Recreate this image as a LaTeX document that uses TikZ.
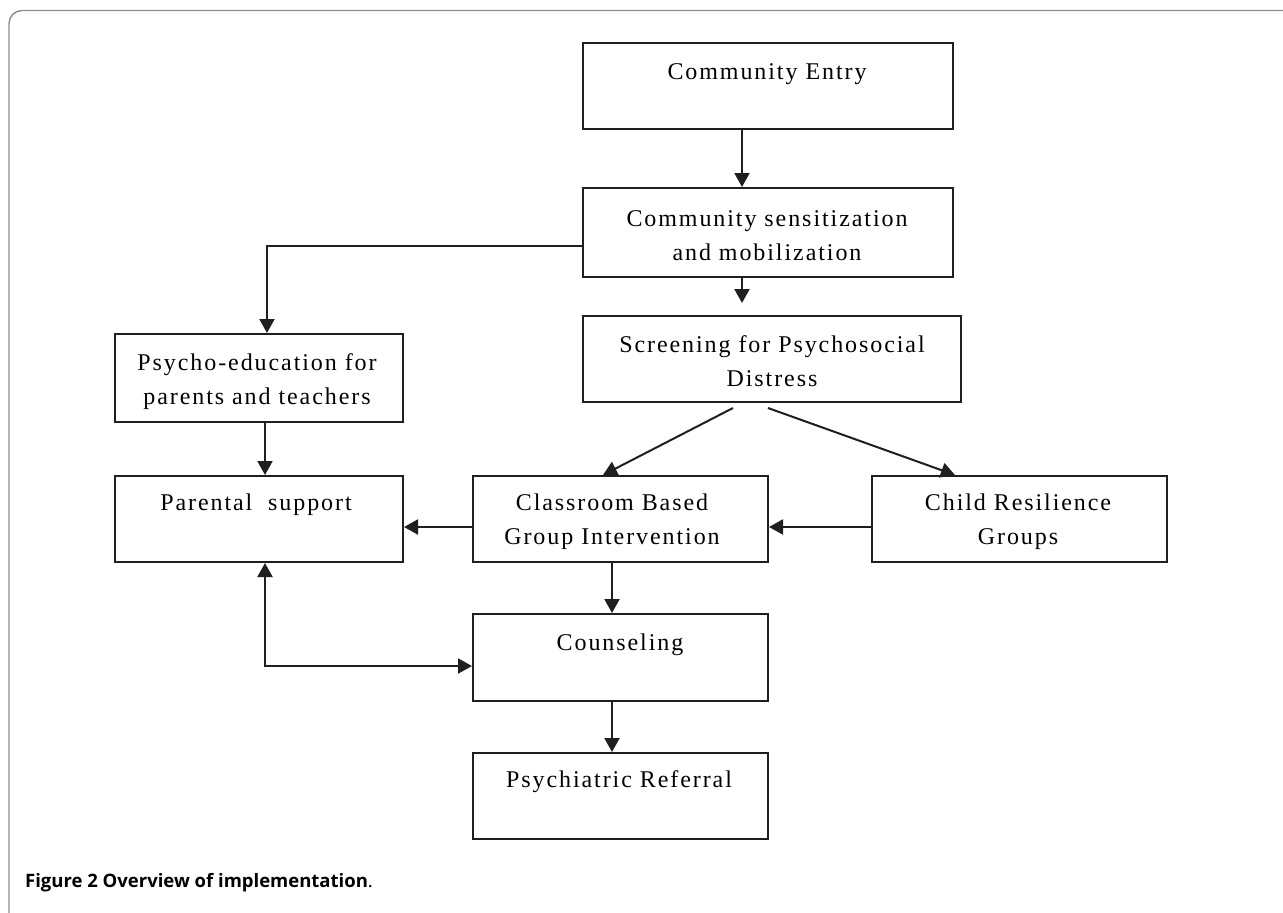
\documentclass[tikz,border=0pt]{standalone}
\usepackage{fontspec}
\setmainfont{Liberation Serif}
\newfontfamily\capfont{Open Sans}
\usetikzlibrary{arrows.meta}
\begin{document}
\begin{tikzpicture}[x=1pt,y=-1pt,
  box/.style={draw=black!88, line width=2pt, inner sep=0pt},
  txt/.style={inner sep=0pt, align=center,
    font=\fontsize{24}{34}\selectfont\addfontfeature{LetterSpace=8}},
  conn/.style={draw=black!88, line width=2pt},
  arr/.style={conn, -{Triangle[length=14pt,width=15pt]}},
  darr/.style={conn, {Triangle[length=14pt,width=15pt]}-{Triangle[length=14pt,width=15pt]}}
]
\useasboundingbox (0,0) rectangle (1283,913);
\fill[white] (0,0) rectangle (1283,913);
% outer frame
\draw[draw=black!45, line width=1.4pt, rounded corners=13pt] (9,913) -- (9,10.5) -- (1283,10.5);

% boxes
\node[box, minimum width=370pt, minimum height=86pt] (entry) at (768,86) {};
\node[box, minimum width=370pt, minimum height=89pt] (sens) at (768,232.5) {};
\node[box, minimum width=288pt, minimum height=88pt] (psy) at (259,378) {};
\node[box, minimum width=378pt, minimum height=86pt] (scr) at (772,359) {};
\node[box, minimum width=288pt, minimum height=86pt] (par) at (259,519) {};
\node[box, minimum width=295pt, minimum height=86pt] (cls) at (620.5,519) {};
\node[box, minimum width=295pt, minimum height=86pt] (chd) at (1019.5,519) {};
\node[box, minimum width=295pt, minimum height=87pt] (cou) at (620.5,657.5) {};
\node[box, minimum width=295pt, minimum height=86pt] (psr) at (620.5,796) {};

% texts
\node[txt] (entryT) at (767,74) {Community Entry};
\node[txt] (sensT) at (767,236) {Community sensitization\\and mobilization};
\node[txt] (psyT) at (257,382) {Psycho-education for\\parents and teachers};
\node[txt] (scrT) at (772,361) {Screening for Psychosocial\\Distress};
\node[txt] (parT) at (256,505) {Parental\ \ support};
\node[txt] (clsT) at (612,522) {Classroom Based\\Group Intervention};
\node[txt] (chdT) at (1018,522) {Child Resilience\\Groups};
\node[txt] (couT) at (620,645) {Counseling};
\node[txt] (psrT) at (619,782) {Psychiatric Referral};

% connectors
\draw[arr] ([xshift=-26pt]entry.south) -- ([xshift=-26pt]sens.north);
\draw[arr] ([xshift=-26pt]sens.south) -- ([xshift=-30pt,yshift=12pt]scr.north);
\draw[arr] ([yshift=-13.5pt]sens.west) -| ([xshift=8pt]psy.north);
\draw[arr] ([xshift=6pt]psy.south) -- ([xshift=6pt]par.north);
\draw[arr] ([xshift=-39pt,yshift=-5pt]scr.south) -- ([xshift=-17.5pt]cls.north);
\draw[arr] ([xshift=-4pt,yshift=-5pt]scr.south) -- ([xshift=-64.5pt]chd.north);
\draw[arr] ([yshift=-8pt]cls.west) -- ([yshift=-8pt]par.east);
\draw[arr] ([yshift=-8pt]chd.west) -- ([yshift=-8pt]cls.east);
\draw[arr] ([xshift=-8.5pt]cls.south) -- ([xshift=-8.5pt]cou.north);
\draw[arr] ([xshift=-8.5pt]cou.south) -- ([xshift=-8.5pt]psr.north);
\draw[darr] ([xshift=6pt]par.south) |- ([yshift=-8.5pt]cou.west);

% caption
\node[anchor=base west, inner sep=0pt] (cap) at (25,887)
  {\capfont\fontsize{18.5}{22}\selectfont\textbf{Figure 2 Overview of implementation}.};
\end{tikzpicture}
\end{document}
